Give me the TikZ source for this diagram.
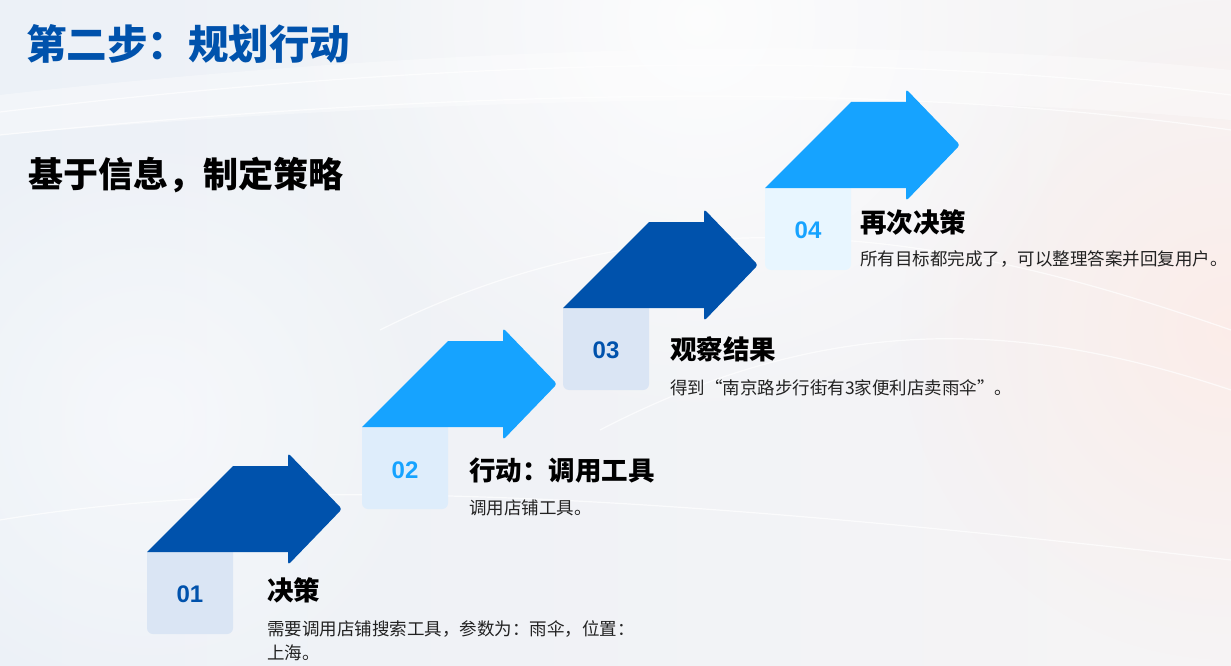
\documentclass[tikz,border=0pt]{standalone}
\usepackage{fontspec}
\setmainfont{Noto Sans CJK SC}
\newfontfamily\numfont{Liberation Sans}
\usetikzlibrary{fadings}
\tikzfading[name=softglow, inner color=transparent!0, outer color=transparent!100]
\definecolor{darkblue}{RGB}{0,82,172}
\definecolor{brightblue}{RGB}{22,163,255}
\definecolor{bgL}{RGB}{236,241,247}
\definecolor{bgR}{RGB}{246,244,245}
\definecolor{glowpink}{RGB}{252,236,232}
\definecolor{desctext}{RGB}{34,34,34}
\definecolor{boxdark}{RGB}{218,229,244}
\definecolor{boxbright}{RGB}{222,237,251}
\newcommand\steparrow[3]{%
  \fill[#3] (#1,#2) -- ++(86,-86) -- ++(55,0) [rounded corners=3pt]-- ++(0,-13) -- ++(54,56) -- ++(-54,56) [sharp corners]-- ++(0,-13) -- cycle;}
\newcommand\stepbox[3]{%
  \begin{scope}
    \clip (#1,#2) rectangle ++(86,90);
    \fill[#3, rounded corners=6pt] (#1,#2-10) rectangle ++(86,92);
  \end{scope}}
\tikzset{
  steptitle/.style={anchor=west, inner sep=0pt, font=\fontsize{26.5}{30}\selectfont\bfseries, text=black},
  stepdesc/.style={anchor=west, inner sep=0pt, font=\fontsize{17.5}{24}\selectfont, text=desctext, align=left},
  stepnum/.style={inner sep=0pt, font=\fontsize{24}{28}\selectfont\numfont\bfseries},
}
\begin{document}
\begin{tikzpicture}[x=1pt,y=-1pt]
\useasboundingbox (0,0) rectangle (1231,666);
% background
\shade[left color=bgL, right color=bgR] (0,0) rectangle (1231,666);
\fill[glowpink, path fading=softglow, opacity=0.9] (1231,330) circle (330);
\fill[white, path fading=softglow, opacity=0.8] (700,20) circle (420);
\fill[white, path fading=softglow, opacity=0.5] (150,420) circle (300);
\begin{scope}[white, opacity=0.7, line width=1.2pt]
  \draw (0,112) .. controls (350,70) and (800,40) .. (1231,95);
  \draw (0,135) .. controls (400,95) and (850,75) .. (1231,130);
  \draw (380,330) .. controls (700,170) and (1000,250) .. (1231,330);
  \draw (600,430) .. controls (850,300) and (1050,330) .. (1231,390);
  \draw (0,520) .. controls (300,470) and (700,500) .. (1231,560);
\end{scope}
\fill[white, opacity=0.35] (0,95) .. controls (400,50) and (850,30) .. (1231,70) -- (1231,120) .. controls (850,85) and (400,100) .. (0,135) -- cycle;
% headings
\node[anchor=west, inner sep=0pt, font=\fontsize{40.5}{48}\selectfont\bfseries, text=darkblue] (title) at (26,44) {第二步：规划行动};
\node[anchor=west, inner sep=0pt, font=\fontsize{35}{42}\selectfont\bfseries, text=black] (subtitle) at (28,175) {基于信息，制定策略};
% step 1
\stepbox{147}{552}{boxdark}
\steparrow{147}{552}{darkblue}
\node[stepnum, text=darkblue] (n1) at (190,594) {01};
\node[steptitle] (t1) at (267,590) {决策};
\node[stepdesc, anchor=north west] (d1) at (267,620) {需要调用店铺搜索工具，参数为：雨伞，位置：\\上海。};
% step 2
\stepbox{362}{427}{boxbright}
\steparrow{362}{427}{brightblue}
\node[stepnum, text=brightblue] (n2) at (405,470) {02};
\node[steptitle] (t2) at (469,471) {行动：调用工具};
\node[stepdesc] (d2) at (469,508) {调用店铺工具。};
% step 3
\stepbox{563}{308}{boxdark}
\steparrow{563}{308}{darkblue}
\node[stepnum, text=darkblue] (n3) at (606,350) {03};
\node[steptitle] (t3) at (670,349) {观察结果};
\node[stepdesc] (d3) at (670,388) {得到“南京路步行街有3家便利店卖雨伞”。};
% step 4
\stepbox{765}{188}{brightblue!10!white}
\steparrow{765}{188}{brightblue}
\node[stepnum, text=brightblue] (n4) at (808,230) {04};
\node[steptitle] (t4) at (860,222) {再次决策};
\node[stepdesc] (d4) at (860,259) {所有目标都完成了，可以整理答案并回复用户。};
\end{tikzpicture}
\end{document}
